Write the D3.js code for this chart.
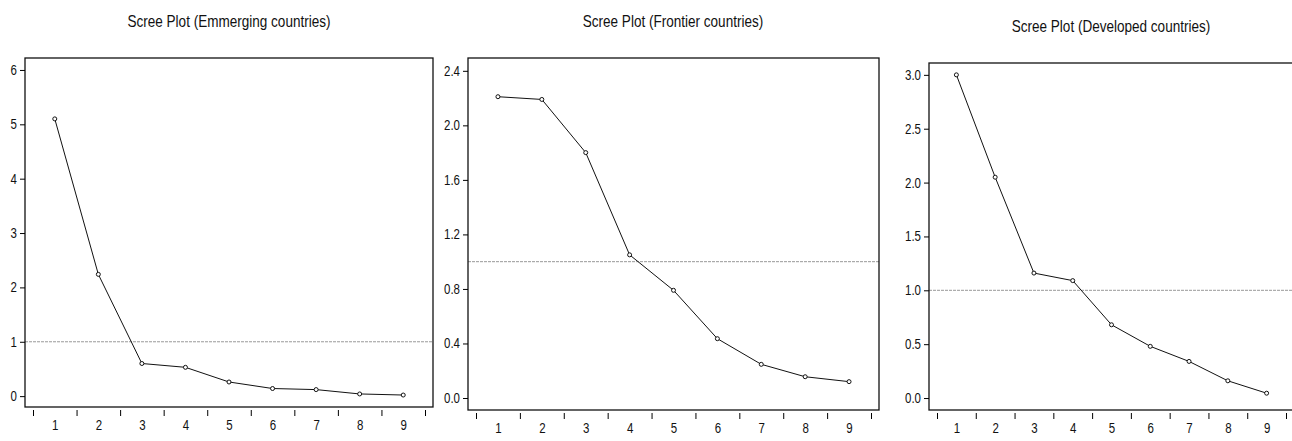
<!DOCTYPE html>
<html>
<head>
<meta charset="utf-8">
<script src="https://cdn.jsdelivr.net/npm/d3@7"></script>
<style>
  body { margin: 0; background: #fff; }
  svg text { font-family: "Liberation Sans", Arial, sans-serif; fill: #111; }
</style>
</head>
<body>
<div id="chart"></div>
<script>
var svgWidth = 1292;
var svgHeight = 441;

// data
var components = [1, 2, 3, 4, 5, 6, 7, 8, 9];
var emergingValues = [5.10, 2.24, 0.60, 0.53, 0.26, 0.14, 0.12, 0.04, 0.02];
var frontierValues = [2.21, 2.19, 1.80, 1.05, 0.79, 0.435, 0.247, 0.156, 0.12];
var developedValues = [3.00, 2.05, 1.16, 1.09, 0.68, 0.48, 0.34, 0.16, 0.045];
var emergingTicks = [0, 1, 2, 3, 4, 5, 6];
var frontierTicks = [0, 0.4, 0.8, 1.2, 1.6, 2.0, 2.4];
var developedTicks = [0, 0.5, 1.0, 1.5, 2.0, 2.5, 3.0];
var titles = ["Scree Plot (Emmerging countries)", "Scree Plot (Frontier countries)", "Scree Plot (Developed countries)"];
var cutoff = 1;

// layout of each panel
var panels = [
  { values: emergingValues, ticks: emergingTicks, fmt: d3.format("d"), title: titles[0],
    left: 25, right: 433, top: 58, bottom: 407, x0: 33, x1: 425, yDomain: [-0.2, 6.22], titleX: 229, titleY: 27 },
  { values: frontierValues, ticks: frontierTicks, fmt: d3.format(".1f"), title: titles[1],
    left: 468, right: 879, top: 58, bottom: 410, x0: 476, x1: 871, yDomain: [-0.088, 2.494], titleX: 673, titleY: 27 },
  { values: developedValues, ticks: developedTicks, fmt: d3.format(".1f"), title: titles[2],
    left: 929, right: 1300, top: 63, bottom: 410, x0: 937, x1: 1286, yDomain: [-0.111, 3.11], titleX: 1111, titleY: 32 }
];

var svg = d3.select("#chart")
  .append("svg")
  .attr("width", svgWidth)
  .attr("height", svgHeight);

// squeeze text like a narrow font
function narrow(sel) {
  sel.each(function() {
    var w = this.getComputedTextLength();
    d3.select(this)
      .attr("textLength", w * 0.82)
      .attr("lengthAdjust", "spacingAndGlyphs");
  });
}

panels.forEach(function(p) {
  var g = svg.append("g");

  var xScale = d3.scaleLinear()
    .domain([0.5, 9.5])
    .range([p.x0, p.x1]);
  var yScale = d3.scaleLinear()
    .domain(p.yDomain)
    .range([p.bottom, p.top]);

  // title
  g.append("text")
    .attr("x", p.titleX)
    .attr("y", p.titleY)
    .attr("text-anchor", "middle")
    .style("font-size", "16.5px")
    .text(p.title)
    .call(narrow);

  // reference line at eigenvalue 1
  g.append("line")
    .attr("x1", p.left)
    .attr("x2", p.right)
    .attr("y1", yScale(cutoff))
    .attr("y2", yScale(cutoff))
    .attr("stroke", "#999")
    .attr("stroke-width", 1)
    .attr("stroke-dasharray", "3,1");

  // frame
  g.append("rect")
    .attr("x", p.left)
    .attr("y", p.top)
    .attr("width", p.right - p.left)
    .attr("height", p.bottom - p.top)
    .attr("fill", "none")
    .attr("stroke", "#111")
    .attr("stroke-width", 1.3);

  // y axis
  var leftAxis = d3.axisLeft(yScale)
    .tickValues(p.ticks)
    .tickFormat(p.fmt)
    .tickSize(5)
    .tickPadding(3);
  var yAxisG = g.append("g")
    .attr("transform", `translate(${p.left}, 0)`)
    .call(leftAxis);
  yAxisG.select(".domain").remove();
  yAxisG.selectAll("text").style("font-size", "14px").call(narrow);

  // x axis: tick marks between components, labels at components
  var tickAxis = d3.axisBottom(xScale)
    .tickValues(d3.range(0.5, 10, 1))
    .tickFormat("")
    .tickSize(6);
  var xTickG = g.append("g")
    .attr("transform", `translate(0, ${p.bottom + 3})`)
    .call(tickAxis);
  xTickG.select(".domain").remove();

  var labelAxis = d3.axisBottom(xScale)
    .tickValues(components)
    .tickFormat(d3.format("d"))
    .tickSize(0)
    .tickPadding(0);
  var xLabelG = g.append("g")
    .attr("transform", `translate(0, ${p.bottom + 13})`)
    .call(labelAxis);
  xLabelG.select(".domain").remove();
  xLabelG.selectAll("text").style("font-size", "14px").call(narrow);

  // line and points
  var line = d3.line()
    .x(function(d, i) { return xScale(components[i]); })
    .y(function(d) { return yScale(d); });

  g.append("path")
    .datum(p.values)
    .attr("d", line)
    .attr("fill", "none")
    .attr("stroke", "#111")
    .attr("stroke-width", 1);

  g.selectAll("circle")
    .data(p.values)
    .enter()
    .append("circle")
    .attr("cx", function(d, i) { return xScale(components[i]); })
    .attr("cy", function(d) { return yScale(d); })
    .attr("r", 2)
    .attr("fill", "#fff")
    .attr("stroke", "#111")
    .attr("stroke-width", 1);
});
</script>
</body>
</html>
